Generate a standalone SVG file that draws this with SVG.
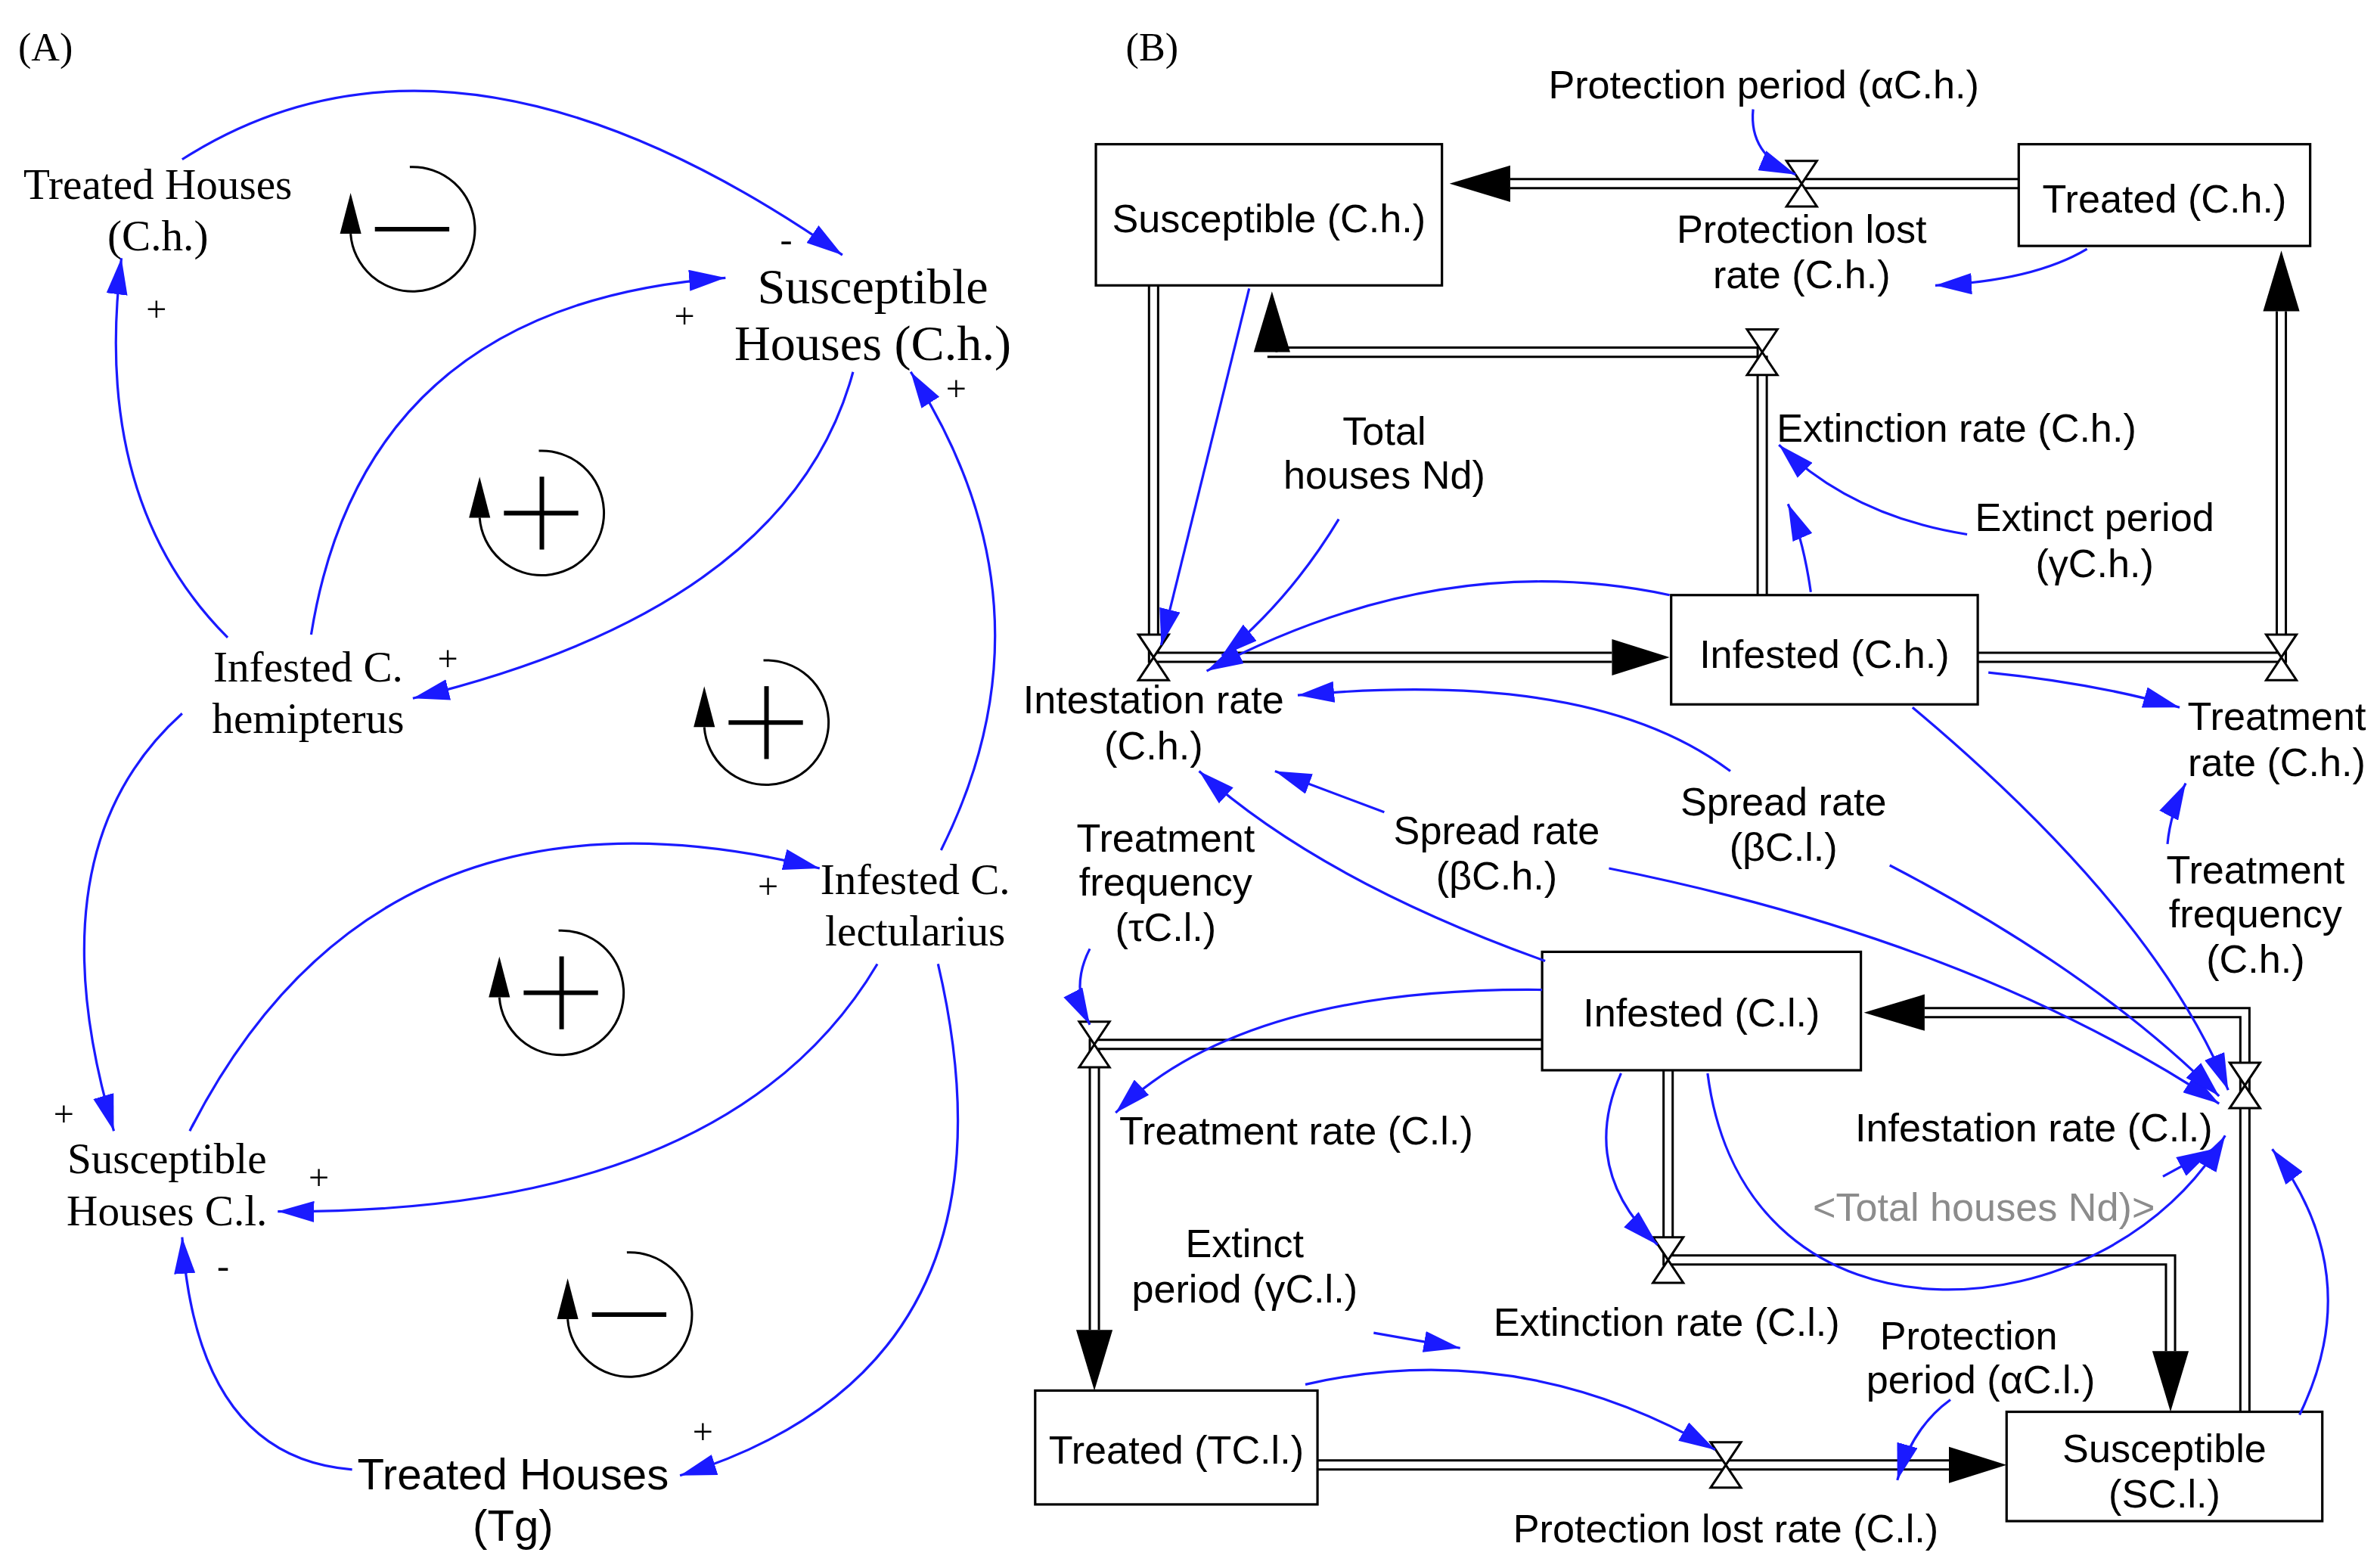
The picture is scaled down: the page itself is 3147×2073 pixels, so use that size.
<svg xmlns="http://www.w3.org/2000/svg" width="3147" height="2073" viewBox="0 0 3147 2073">
<style>
.s{font-family:"Liberation Serif",serif;fill:#000;text-anchor:middle}
.a{font-family:"Liberation Sans",Arial,sans-serif;fill:#000;text-anchor:middle;font-size:26px}
.b{fill:none;stroke:#1a1aff;stroke-width:1.6}
.box{fill:#fff;stroke:#000;stroke-width:1.6}
.p{fill:none;stroke:#000;stroke-width:1.5}
.v{fill:#fff;stroke:#000;stroke-width:1.5}
.loop{fill:none;stroke:#000;stroke-width:1.5}
.sign{stroke:#000;stroke-width:3}
</style>
<defs>
<marker id="ba" viewBox="0 0 24 14" refX="24" refY="7" markerWidth="24" markerHeight="14" markerUnits="userSpaceOnUse" orient="auto"><path d="M0,0 L24,7 L0,14 Z" fill="#1a1aff"/></marker>
<g id="valve"><path class="v" d="M-10,-15 L10,-15 L-10,15 L10,15 Z"/></g>
</defs>
<rect width="3147" height="2073" fill="#fff"/>
<g transform="scale(2.007)">
<text class="s" x="30" y="40" font-size="26">(A)</text>
<g id="loops">
<g transform="translate(272,151)"><path class="loop" d="M-2,-41 A41 41 0 1 1 -41,3"/><path d="M-41,-24 L-48,3 L-34,3 Z"/><line class="sign" x1="-25" y1="0" x2="24" y2="0"/></g>
<g transform="translate(357,338)"><path class="loop" d="M-2,-41 A41 41 0 1 1 -41,3"/><path d="M-41,-24 L-48,3 L-34,3 Z"/><line class="sign" x1="-25" y1="0" x2="24" y2="0"/><line class="sign" x1="0" y1="-24" x2="0" y2="24"/></g>
<g transform="translate(505,476)"><path class="loop" d="M-2,-41 A41 41 0 1 1 -41,3"/><path d="M-41,-24 L-48,3 L-34,3 Z"/><line class="sign" x1="-25" y1="0" x2="24" y2="0"/><line class="sign" x1="0" y1="-24" x2="0" y2="24"/></g>
<g transform="translate(370,654)"><path class="loop" d="M-2,-41 A41 41 0 1 1 -41,3"/><path d="M-41,-24 L-48,3 L-34,3 Z"/><line class="sign" x1="-25" y1="0" x2="24" y2="0"/><line class="sign" x1="0" y1="-24" x2="0" y2="24"/></g>
<g transform="translate(415,866)"><path class="loop" d="M-2,-41 A41 41 0 1 1 -41,3"/><path d="M-41,-24 L-48,3 L-34,3 Z"/><line class="sign" x1="-25" y1="0" x2="24" y2="0"/></g>
</g>
<g id="treatedCh"><text class="s" font-size="28.5" x="104" y="131">Treated Houses</text><text class="s" font-size="28.5" x="104" y="165">(C.h.)</text></g>
<g id="suscCh"><text class="s" font-size="33" x="575" y="200">Susceptible</text><text class="s" font-size="33" x="575" y="237">Houses (C.h.)</text></g>
<g id="infCh"><text class="s" font-size="28.5" x="203" y="449">Infested C.</text><text class="s" font-size="28.5" x="203" y="483">hemipterus</text></g>
<g id="infCl"><text class="s" font-size="28.5" x="603" y="589">Infested C.</text><text class="s" font-size="28.5" x="603" y="623">lectularius</text></g>
<g id="suscCl"><text class="s" font-size="28.5" x="110" y="773">Susceptible</text><text class="s" font-size="28.5" x="110" y="807">Houses C.l.</text></g>
<g id="treatedTg"><text class="a" x="338" y="981" style="font-size:29px">Treated Houses</text><text class="a" x="338" y="1015" style="font-size:29px">(Tg)</text></g>
<g id="connectorsA">
<path class="b" marker-end="url(#ba)" d="M120,105 Q300,-10 555,168"/>
<path class="b" marker-end="url(#ba)" d="M150,420 Q60,330 80,170"/>
<path class="b" marker-end="url(#ba)" d="M205,418 Q240,200 478,183"/>
<path class="b" marker-end="url(#ba)" d="M562,245 Q520,400 272,460"/>
<path class="b" marker-end="url(#ba)" d="M620,560 Q700,400 600,245"/>
<path class="b" marker-end="url(#ba)" d="M120,470 Q20,560 75,745"/>
<path class="b" marker-end="url(#ba)" d="M125,745 Q250,500 540,572"/>
<path class="b" marker-end="url(#ba)" d="M578,635 Q480,800 183,798"/>
<path class="b" marker-end="url(#ba)" d="M618,635 Q680,900 448,972"/>
<path class="b" marker-end="url(#ba)" d="M232,968 Q130,960 120,815"/>
<text class="s" font-size="24" x="518" y="166">-</text>
<text class="s" font-size="24" x="103" y="212">+</text>
<text class="s" font-size="24" x="451" y="216">+</text>
<text class="s" font-size="24" x="295" y="442">+</text>
<text class="s" font-size="24" x="630" y="264">+</text>
<text class="s" font-size="24" x="42" y="742">+</text>
<text class="s" font-size="24" x="506" y="592">+</text>
<text class="s" font-size="24" x="210" y="784">+</text>
<text class="s" font-size="24" x="463" y="951">+</text>
<text class="s" font-size="24" x="147" y="842">-</text>
</g>
<text class="s" x="759" y="40" font-size="26">(B)</text>
<g id="pipes">
<path class="p" d="M1330,118 H995 M1330,124 H995"/><path d="M995,109 L955,121 L995,133 Z"/>
<path class="p" d="M1158,392 V229 H841 V232 M1164,392 V235 H835"/><path d="M826,232 L838,192 L850,232 Z"/>
<path class="p" d="M757,188 V436 H1062 M763,188 V430 H1062"/><path d="M1062,421 L1100,433 L1062,445 Z"/>
<path class="p" d="M1303,430 H1500 V205 M1303,436 H1506 V205"/><path d="M1491,205 L1503,165 L1515,205 Z"/>
<path class="p" d="M1016,685 H718 V876 M1016,691 H724 V876"/><path d="M709,876 L721,916 L733,876 Z"/>
<path class="p" d="M868,962 H1284 M868,968 H1284"/><path d="M1284,953 L1322,965 L1284,977 Z"/>
<path class="p" d="M1476,930 V670 H1268 M1482,930 V664 H1268"/><path d="M1268,655 L1228,667 L1268,679 Z"/>
<path class="p" d="M1096,705 V833 H1427 V890 M1102,705 V827 H1433 V890"/><path d="M1418,890 L1430,930 L1442,890 Z"/>
<use href="#valve" x="1187" y="121"/>
<use href="#valve" x="1161" y="232"/>
<use href="#valve" x="760" y="433"/>
<use href="#valve" x="1503" y="433"/>
<use href="#valve" x="721" y="688"/>
<use href="#valve" x="1137" y="965"/>
<use href="#valve" x="1479" y="715"/>
<use href="#valve" x="1099" y="830"/>
</g>
<g id="boxSuscCh"><rect class="box" x="722" y="95" width="228" height="93"/><text class="a" x="836" y="153">Susceptible (C.h.)</text></g>
<g id="boxTreatedCh"><rect class="box" x="1330" y="95" width="192" height="67"/><text class="a" x="1426" y="140">Treated (C.h.)</text></g>
<g id="boxInfCh"><rect class="box" x="1101" y="392" width="202" height="72"/><text class="a" x="1202" y="440">Infested (C.h.)</text></g>
<g id="boxInfCl"><rect class="box" x="1016" y="627" width="210" height="78"/><text class="a" x="1121" y="676">Infested (C.l.)</text></g>
<g id="boxTreatedCl"><rect class="box" x="682" y="916" width="186" height="75"/><text class="a" x="775" y="964">Treated (TC.l.)</text></g>
<g id="boxSuscCl"><rect class="box" x="1322" y="930" width="208" height="72"/><text class="a" x="1426" y="963">Susceptible</text><text class="a" x="1426" y="993">(SC.l.)</text></g>
<g id="labelsB">
<text class="a" x="1162" y="65">Protection period (αC.h.)</text>
<text class="a" x="1187" y="160">Protection lost</text><text class="a" x="1187" y="190">rate (C.h.)</text>
<text class="a" x="1289" y="291">Extinction rate (C.h.)</text>
<text class="a" x="912" y="293">Total</text><text class="a" x="912" y="322">houses Nd)</text>
<text class="a" x="1380" y="350">Extinct period</text><text class="a" x="1380" y="380">(γC.h.)</text>
<text class="a" x="760" y="470">Intestation rate</text><text class="a" x="760" y="500">(C.h.)</text>
<text class="a" x="1500" y="481">Treatment</text><text class="a" x="1500" y="511">rate (C.h.)</text>
<text class="a" x="1175" y="537">Spread rate</text><text class="a" x="1175" y="567">(βC.l.)</text>
<text class="a" x="986" y="556">Spread rate</text><text class="a" x="986" y="586">(βC.h.)</text>
<text class="a" x="768" y="561">Treatment</text><text class="a" x="768" y="590">frequency</text><text class="a" x="768" y="620">(τC.l.)</text>
<text class="a" x="1486" y="582">Treatment</text><text class="a" x="1486" y="611">frequency</text><text class="a" x="1486" y="641">(C.h.)</text>
<text class="a" x="854" y="754">Treatment rate (C.l.)</text>
<text class="a" x="1340" y="752">Infestation rate (C.l.)</text>
<text class="a" x="1307" y="804" style="fill:#8c8c8c">&lt;Total houses Nd)&gt;</text>
<text class="a" x="820" y="828">Extinct</text><text class="a" x="820" y="858">period (γC.l.)</text>
<text class="a" x="1098" y="880">Extinction rate (C.l.)</text>
<text class="a" x="1297" y="889">Protection</text><text class="a" x="1305" y="918">period (αC.l.)</text>
<text class="a" x="1137" y="1016">Protection lost rate (C.l.)</text>
</g>
<g id="connectorsB">
<path class="b" marker-end="url(#ba)" d="M1155,72 Q1152,102 1183,115"/>
<path class="b" marker-end="url(#ba)" d="M1375,164 Q1340,185 1275,188"/>
<path class="b" marker-end="url(#ba)" d="M823,190 L765,425"/>
<path class="b" marker-end="url(#ba)" d="M882,342 Q850,395 805,432"/>
<path class="b" marker-end="url(#ba)" d="M1100,392 Q950,360 795,442"/>
<path class="b" marker-end="url(#ba)" d="M1193,390 Q1188,355 1178,332"/>
<path class="b" marker-end="url(#ba)" d="M1296,352 Q1220,340 1172,293"/>
<path class="b" marker-end="url(#ba)" d="M1310,443 Q1380,450 1436,466"/>
<path class="b" marker-end="url(#ba)" d="M1428,556 Q1430,535 1440,516"/>
<path class="b" marker-end="url(#ba)" d="M1140,508 Q1050,440 855,458"/>
<path class="b" marker-end="url(#ba)" d="M912,535 L840,508"/>
<path class="b" marker-end="url(#ba)" d="M1018,633 Q870,580 790,508"/>
<path class="b" marker-end="url(#ba)" d="M1060,572 Q1300,620 1462,727"/>
<path class="b" marker-end="url(#ba)" d="M1245,570 Q1380,640 1462,722"/>
<path class="b" marker-end="url(#ba)" d="M1260,466 Q1420,600 1468,718"/>
<path class="b" marker-end="url(#ba)" d="M1125,707 C1150,900 1390,880 1466,748"/>
<path class="b" marker-end="url(#ba)" d="M1425,775 L1458,757"/>
<path class="b" marker-end="url(#ba)" d="M1515,932 Q1560,840 1497,757"/>
<path class="b" marker-end="url(#ba)" d="M718,625 Q705,650 718,675"/>
<path class="b" marker-end="url(#ba)" d="M1016,652 Q820,650 735,733"/>
<path class="b" marker-end="url(#ba)" d="M1068,707 Q1040,770 1092,820"/>
<path class="b" marker-end="url(#ba)" d="M905,878 L962,888"/>
<path class="b" marker-end="url(#ba)" d="M860,912 Q1000,880 1130,955"/>
<path class="b" marker-end="url(#ba)" d="M1285,922 Q1260,940 1250,975"/>
</g>
</g>
</svg>
